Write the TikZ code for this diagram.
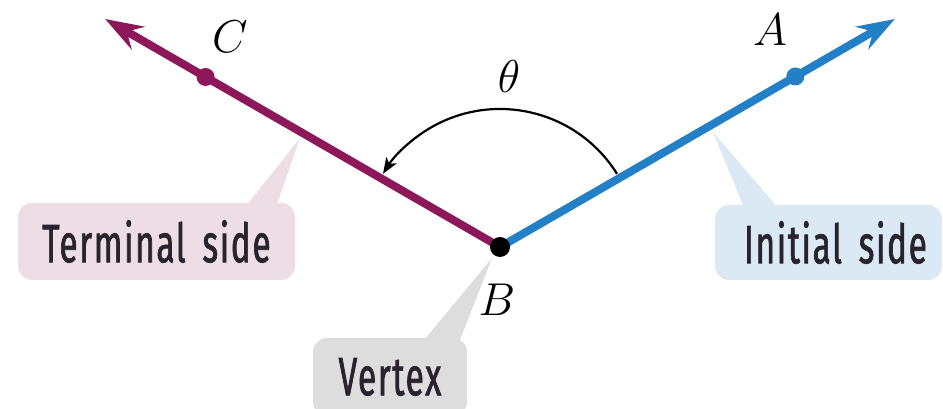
\documentclass[tikz,border=0pt]{standalone}
\usepackage{fontspec}
\usetikzlibrary{arrows.meta,calc}
\newfontfamily\lblfont[FakeStretch=0.62,FakeBold=1.2,LetterSpace=3,WordSpace=1.6]{Fira Sans}
\definecolor{termc}{RGB}{140,24,90}
\definecolor{initc}{RGB}{36,128,198}
\definecolor{termbox}{RGB}{236,222,228}
\definecolor{initbox}{RGB}{219,233,245}
\definecolor{vertbox}{RGB}{221,221,221}
\definecolor{txtc}{RGB}{40,35,45}
\tikzset{
  callout/.style={rounded corners=14pt, inner sep=0pt, font=\lblfont\fontsize{54}{60}\selectfont, text=txtc},
  ray/.style={line width=8pt, -{Stealth[length=38pt,width=26pt,inset=13pt]}},
  ptlabel/.style={font=\Huge, scale=1.85, inner sep=0pt},
}
\begin{document}
\begin{tikzpicture}[x=1pt,y=1pt]
\useasboundingbox (0,0) rectangle (943,409);
\clip (0,0) rectangle (943,409);
% vertex
\coordinate (B) at (500,162);
% callout pointers
\coordinate (tT) at (300,271);
\coordinate (tI) at (713,277);
\coordinate (tV) at (492,151);
\fill[termbox] (tT) -- (275,199) -- (243,199) -- cycle;
\fill[initbox] (tI) -- (780,199) -- (745,199) -- cycle;
\fill[vertbox] (tV) -- (458,64) -- (420,64) -- cycle;
% callout boxes
\node[callout, fill=termbox, minimum width=277pt, minimum height=77pt] (term) at (156.5,167.5) {Terminal side};
\node[callout, fill=initbox, minimum width=227pt, minimum height=75pt] (init) at (828.5,166.5) {\hspace*{14pt}Initial side};
\node[callout, fill=vertbox, minimum width=154pt, minimum height=78pt] (vert) at (390,32) {Vertex};
% rays
\coordinate (Atip) at ($(B)+(30:456)$);
\coordinate (Ctip) at ($(B)+(150:456)$);
\draw[ray, initc] (B) -- (Atip);
\draw[ray, termc] (B) -- (Ctip);
% points on rays
\coordinate (Apt) at ($(B)+(30:341)$);
\coordinate (Cpt) at ($(B)+(150:340)$);
\fill[initc] (Apt) circle (9pt);
\fill[termc] (Cpt) circle (9pt);
\fill[black] (B) circle (10pt);
% angle arc
\draw[line width=2.2pt, -{Stealth[length=16pt,width=12pt,inset=4pt]}] ($(B)+(32:138)$) arc[start angle=32, end angle=148, radius=138];
% labels
\node[ptlabel] (A) at (770,379) {$A$};
\node[ptlabel] (C) at (230,372) {$C$};
\node[ptlabel] (Blab) at (497,109) {$B$};
\node[ptlabel] (th) at (509,332) {$\theta$};
\end{tikzpicture}
\end{document}
